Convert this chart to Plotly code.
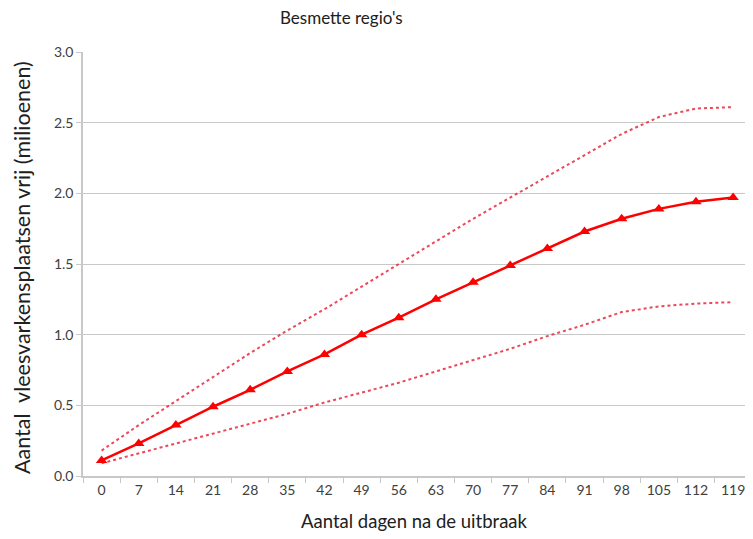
import plotly.graph_objects as go

days = ["0", "7", "14", "21", "28", "35", "42", "49", "56", "63", "70", "77", "84", "91", "98", "105", "112", "119"]
mean_vals = [0.11, 0.23, 0.36, 0.49, 0.61, 0.74, 0.86, 1.00, 1.12, 1.25, 1.37, 1.49, 1.61, 1.73, 1.82, 1.89, 1.94, 1.97]
upper_vals = [0.18, 0.36, 0.53, 0.70, 0.87, 1.03, 1.18, 1.34, 1.50, 1.66, 1.82, 1.97, 2.12, 2.27, 2.42, 2.54, 2.60, 2.61]
lower_vals = [0.09, 0.16, 0.23, 0.30, 0.37, 0.44, 0.52, 0.59, 0.66, 0.74, 0.82, 0.90, 0.99, 1.07, 1.16, 1.20, 1.22, 1.23]
y_ticks = [0.0, 0.5, 1.0, 1.5, 2.0, 2.5, 3.0]

title_text = "Besmette regio's"
x_title = "Aantal dagen na de uitbraak"
y_title = "Aantal  vleesvarkensplaatsen vrij (milioenen)"

FONT = "Lato, 'Noto Sans', sans-serif"
OFF = 8  # page body margin
W, H = 753 - OFF, 539 - 2 * OFF
ML, MR, MT = 83 - OFF, 0, 52 - OFF
plot_bottom = 476 - OFF
MB = H - plot_bottom
pw = W - ML - MR
ph = H - MT - MB


def px_x(x):
    return (x - OFF - ML) / pw


def px_y(y):
    return (plot_bottom - (y - OFF)) / ph


fig = go.Figure()
fig.add_trace(go.Scatter(x=days, y=upper_vals, mode="lines",
                         line=dict(color="rgba(232,40,60,0.85)", width=2, dash="dot"),
                         showlegend=False, hoverinfo="skip"))
fig.add_trace(go.Scatter(x=days, y=lower_vals, mode="lines",
                         line=dict(color="rgba(232,40,60,0.85)", width=2, dash="dot"),
                         showlegend=False, hoverinfo="skip"))
fig.add_trace(go.Scatter(x=days, y=mean_vals, mode="lines+markers",
                         line=dict(color="#FF0000", width=2.5),
                         marker=dict(symbol="triangle-up", size=10, color="#FF0000"),
                         showlegend=False))

cat_w = 37.15
x_max = -0.5 + pw / cat_w

fig.update_layout(
    width=W, height=H,
    margin=dict(l=ML, r=MR, t=MT, b=MB, autoexpand=False),
    paper_bgcolor="white", plot_bgcolor="white",
    font=dict(family=FONT, color="#404040", size=14),
    xaxis=dict(type="category", range=[-0.5, x_max], tickson="boundaries",
               ticks="outside", ticklen=5, tickcolor="#C8C8C8",
               showline=True, linecolor="#C8C8C8", linewidth=1.5,
               showgrid=False, tickfont=dict(size=14, color="#404040"),
               ticklabeloverflow="allow"),
    yaxis=dict(range=[0, 3.0], tickvals=y_ticks, tickformat=".1f",
               ticks="outside", ticklen=5, tickcolor="#C8C8C8",
               showline=True, linecolor="#C8C8C8", linewidth=1.5,
               showgrid=True, gridcolor="#C8C8C8", gridwidth=1.2,
               zeroline=False, tickfont=dict(size=14, color="#404040")),
    annotations=[
        dict(text=title_text, x=px_x(341), y=px_y(18),
             xref="paper", yref="paper", xanchor="center", yanchor="middle",
             showarrow=False, font=dict(size=17, color="#202020", family=FONT)),
        dict(text=x_title, x=px_x(414), y=px_y(521),
             xref="paper", yref="paper", xanchor="center", yanchor="middle",
             showarrow=False, font=dict(size=18.5, color="#202020", family=FONT)),
        dict(text=y_title, x=px_x(22), y=px_y(268),
             xref="paper", yref="paper", xanchor="center", yanchor="middle",
             textangle=-90, showarrow=False, font=dict(size=21.5, color="#202020", family=FONT)),
    ],
)

fig.write_html("out.html")
